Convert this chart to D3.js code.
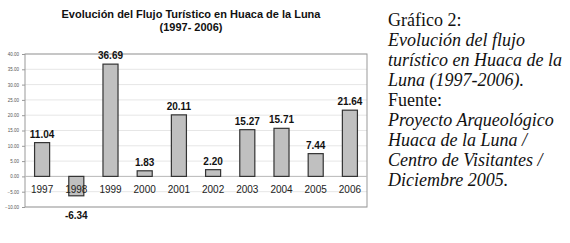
<!DOCTYPE html>
<html>
<head>
<meta charset="utf-8">
<script src="https://cdn.jsdelivr.net/npm/d3@7"></script>
<style>
  body { margin: 0; background: #fff; }
</style>
</head>
<body>
<div id="chart"></div>
<script>
const years = ["1997", "1998", "1999", "2000", "2001", "2002", "2003", "2004", "2005", "2006"];
const values = [11.04, -6.34, 36.69, 1.83, 20.11, 2.20, 15.27, 15.71, 7.44, 21.64];
const yTicks = [-10, -5, 0, 5, 10, 15, 20, 25, 30, 35, 40];
const captionLines = [
    { text: "Gráfico 2:", italic: false },
    { text: "Evolución del flujo", italic: true },
    { text: "turístico en Huaca de la", italic: true },
    { text: "Luna (1997-2006).", italic: true },
    { text: "Fuente:", italic: false },
    { text: "Proyecto Arqueológico", italic: true },
    { text: "Huaca de la Luna /", italic: true },
    { text: "Centro de Visitantes /", italic: true },
    { text: "Diciembre 2005.", italic: true }
];

const W = 570, H = 243;
const plot = { left: 25, right: 367, top: 54, bottom: 207 };

const svg = d3.select("#chart").append("svg")
    .attr("width", W)
    .attr("height", H);

// Scales
const x = d3.scaleBand()
    .domain(years)
    .range([plot.left, plot.right])
    .paddingInner(0.56)
    .paddingOuter(0.28);

const y = d3.scaleLinear()
    .domain([-10, 40])
    .range([plot.bottom, plot.top]);

// Gridlines
svg.append("g")
    .selectAll("line")
    .data(yTicks)
    .enter()
    .append("line")
    .attr("x1", plot.left)
    .attr("x2", plot.right)
    .attr("y1", d => y(d))
    .attr("y2", d => y(d))
    .attr("stroke", "#e6e6e6")
    .attr("stroke-width", 1);

// Y axis labels
const yAxis = svg.append("g")
    .attr("transform", `translate(${plot.left}, 0)`)
    .call(d3.axisLeft(y).tickValues(yTicks).tickFormat(d3.format(".2f")).tickSize(3));
yAxis.select(".domain").remove();
yAxis.selectAll("line").attr("stroke", "#999");
yAxis.selectAll("text")
    .style("font-family", "Liberation Sans, Arial, sans-serif")
    .style("font-size", "4.5px")
    .attr("fill", "#555");

// Frame
svg.append("rect")
    .attr("x", plot.left)
    .attr("y", plot.top)
    .attr("width", plot.right - plot.left)
    .attr("height", plot.bottom - plot.top)
    .attr("fill", "none")
    .attr("stroke", "#999")
    .attr("stroke-width", 1);

// Zero line
svg.append("line")
    .attr("x1", plot.left)
    .attr("x2", plot.right)
    .attr("y1", y(0))
    .attr("y2", y(0))
    .attr("stroke", "#bbb")
    .attr("stroke-width", 1);

// Bars
svg.append("g")
    .selectAll("rect")
    .data(values)
    .enter()
    .append("rect")
    .attr("x", (d, i) => x(years[i]))
    .attr("y", d => y(Math.max(0, d)))
    .attr("width", x.bandwidth())
    .attr("height", d => Math.abs(y(d) - y(0)))
    .attr("fill", "#c0c0c0")
    .attr("stroke", "#333")
    .attr("stroke-width", 1.2);

// Year labels (just below zero line)
svg.append("g")
    .selectAll("text")
    .data(years)
    .enter()
    .append("text")
    .attr("x", d => x(d) + x.bandwidth() / 2)
    .attr("y", y(0) + 17)
    .attr("text-anchor", "middle")
    .style("font-family", "Liberation Sans, Arial, sans-serif")
    .style("font-size", "10px")
    .attr("fill", "#222")
    .text(d => d);

// Value labels
svg.append("g")
    .selectAll("text")
    .data(values)
    .enter()
    .append("text")
    .attr("x", (d, i) => x(years[i]) + x.bandwidth() / 2)
    .attr("y", d => d >= 0 ? y(d) - 5 : y(d) + 23)
    .attr("text-anchor", "middle")
    .style("font-family", "Liberation Sans, Arial, sans-serif")
    .style("font-size", "10px")
    .style("font-weight", "bold")
    .attr("fill", "#111")
    .text(d => d.toFixed(2));

// Title
svg.append("text")
    .attr("x", 191)
    .attr("y", 18)
    .attr("text-anchor", "middle")
    .style("font-family", "Liberation Sans, Arial, sans-serif")
    .style("font-size", "11px")
    .style("font-weight", "bold")
    .attr("fill", "#111")
    .text("Evolución del Flujo Turístico en Huaca de la Luna");

svg.append("text")
    .attr("x", 191)
    .attr("y", 31)
    .attr("text-anchor", "middle")
    .style("font-family", "Liberation Sans, Arial, sans-serif")
    .style("font-size", "11px")
    .style("font-weight", "bold")
    .attr("fill", "#111")
    .text("(1997- 2006)");

// Caption on the right
svg.append("g")
    .selectAll("text")
    .data(captionLines)
    .enter()
    .append("text")
    .attr("x", 388)
    .attr("y", (d, i) => 26 + i * 20)
    .style("font-family", "Liberation Serif, serif")
    .style("font-size", "18px")
    .style("font-style", d => d.italic ? "italic" : "normal")
    .attr("fill", "#111")
    .text(d => d.text);
</script>
</body>
</html>
